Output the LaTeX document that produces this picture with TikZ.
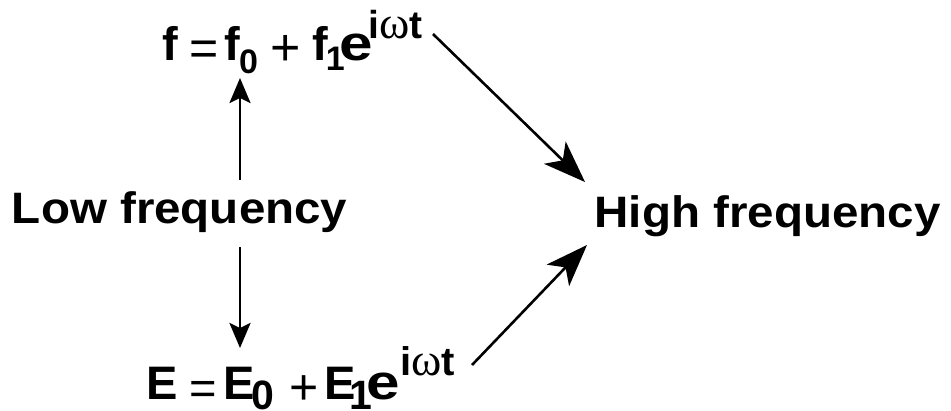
\documentclass[tikz,border=0pt]{standalone}
\usepackage{fontspec}
\setmainfont{Liberation Sans}
\newfontfamily\omegafont{Liberation Serif}
\usetikzlibrary{arrows.meta}
\newcommand{\mainb}{\fontsize{47}{50}\selectfont\bfseries}
\newcommand{\mainr}[1]{\fontsize{#1}{#1}\selectfont\mdseries}
\newcommand{\subf}{\fontsize{34}{34}\selectfont\bfseries}
\newcommand{\subE}{\fontsize{41}{41}\selectfont\bfseries}
\newcommand{\labf}{\fontsize{44}{46}\selectfont\bfseries}
\newcommand{\wide}[1]{\scalebox{1.28}[1.05]{#1}}
\newcommand{\expo}[2]{\fontsize{#1}{#1}\selectfont\bfseries i{\fontsize{#2}{#2}\selectfont\omegafont\mdseries ω}t}
% a piece placed at an offset (x to the right, y raised) from the node's origin
\newcommand{\pc}[3]{\makebox[0pt][l]{\hspace*{#1}\raisebox{#2}{#3}}}
\newcommand{\pcs}[3]{\makebox[0pt][l]{\hspace*{#1}\raisebox{#2}[\height][0pt]{#3}}}
\begin{document}
\begin{tikzpicture}[x=1pt,y=-1pt,
  piece/.style={anchor=base west, inner sep=0pt, outer sep=0pt, text=black},
  vert/.style={line width=2.6pt, -{Stealth[length=25pt,width=21pt,inset=5pt]}},
  diag/.style={line width=2.6pt, -{Stealth[length=42pt,width=31pt,inset=11pt]}}]
\useasboundingbox (0,0) rectangle (951,410);

% labels
\node[piece] (low) at (12,223) {\labf\scalebox{1.08}[1]{Low frequency}};
\node[piece] (high) at (594.6,227) {\labf\scalebox{1.08}[1]{High frequency}};

% f = f0 + f1 e^{i omega t}
\node[piece] (fform) at (162,60) {%
  \pc{0pt}{0pt}{\mainb f}%
  \pcs{27.6pt}{-5pt}{\mainr{50}=}%
  \pc{62pt}{0pt}{\mainb f}%
  \pc{77pt}{-13pt}{\subf 0}%
  \pcs{108.5pt}{-5pt}{\mainr{52}+}%
  \pc{150pt}{0pt}{\mainb f}%
  \pc{163.8pt}{-10pt}{\subf 1}%
  \pc{177.5pt}{0pt}{\wide{\mainb e}}%
  \pc{206.5pt}{22pt}{\expo{39}{46}}%
  \hspace*{262pt}};

% E = E0 + E1 e^{i omega t}
\node[piece] (Eform) at (146.5,399) {%
  \pc{0pt}{0pt}{\mainb E}%
  \pcs{43.2pt}{-5pt}{\mainr{47}=}%
  \pc{77pt}{0pt}{\mainb E}%
  \pc{105pt}{-10pt}{\subE 0}%
  \pcs{143pt}{-5pt}{\mainr{50}+}%
  \pc{178pt}{0pt}{\mainb E}%
  \pc{203pt}{-10pt}{\subE 1}%
  \pc{220pt}{0pt}{\wide{\mainb e}}%
  \pc{254pt}{24pt}{\expo{40}{46}}%
  \hspace*{310pt}};

% arrow end points
\coordinate (upS) at (240,180);
\coordinate (upT) at (240,78);
\coordinate (dnS) at (240,247);
\coordinate (dnT) at (240,348);
\coordinate (d1S) at (433,34);
\coordinate (d1T) at (585,182);
\coordinate (d2S) at (472,365);
\coordinate (d2T) at (587,245);

\draw[vert] (upS) -- (upT);
\draw[vert] (dnS) -- (dnT);
\draw[diag] (d1S) -- (d1T);
\draw[diag] (d2S) -- (d2T);
\end{tikzpicture}
\end{document}
